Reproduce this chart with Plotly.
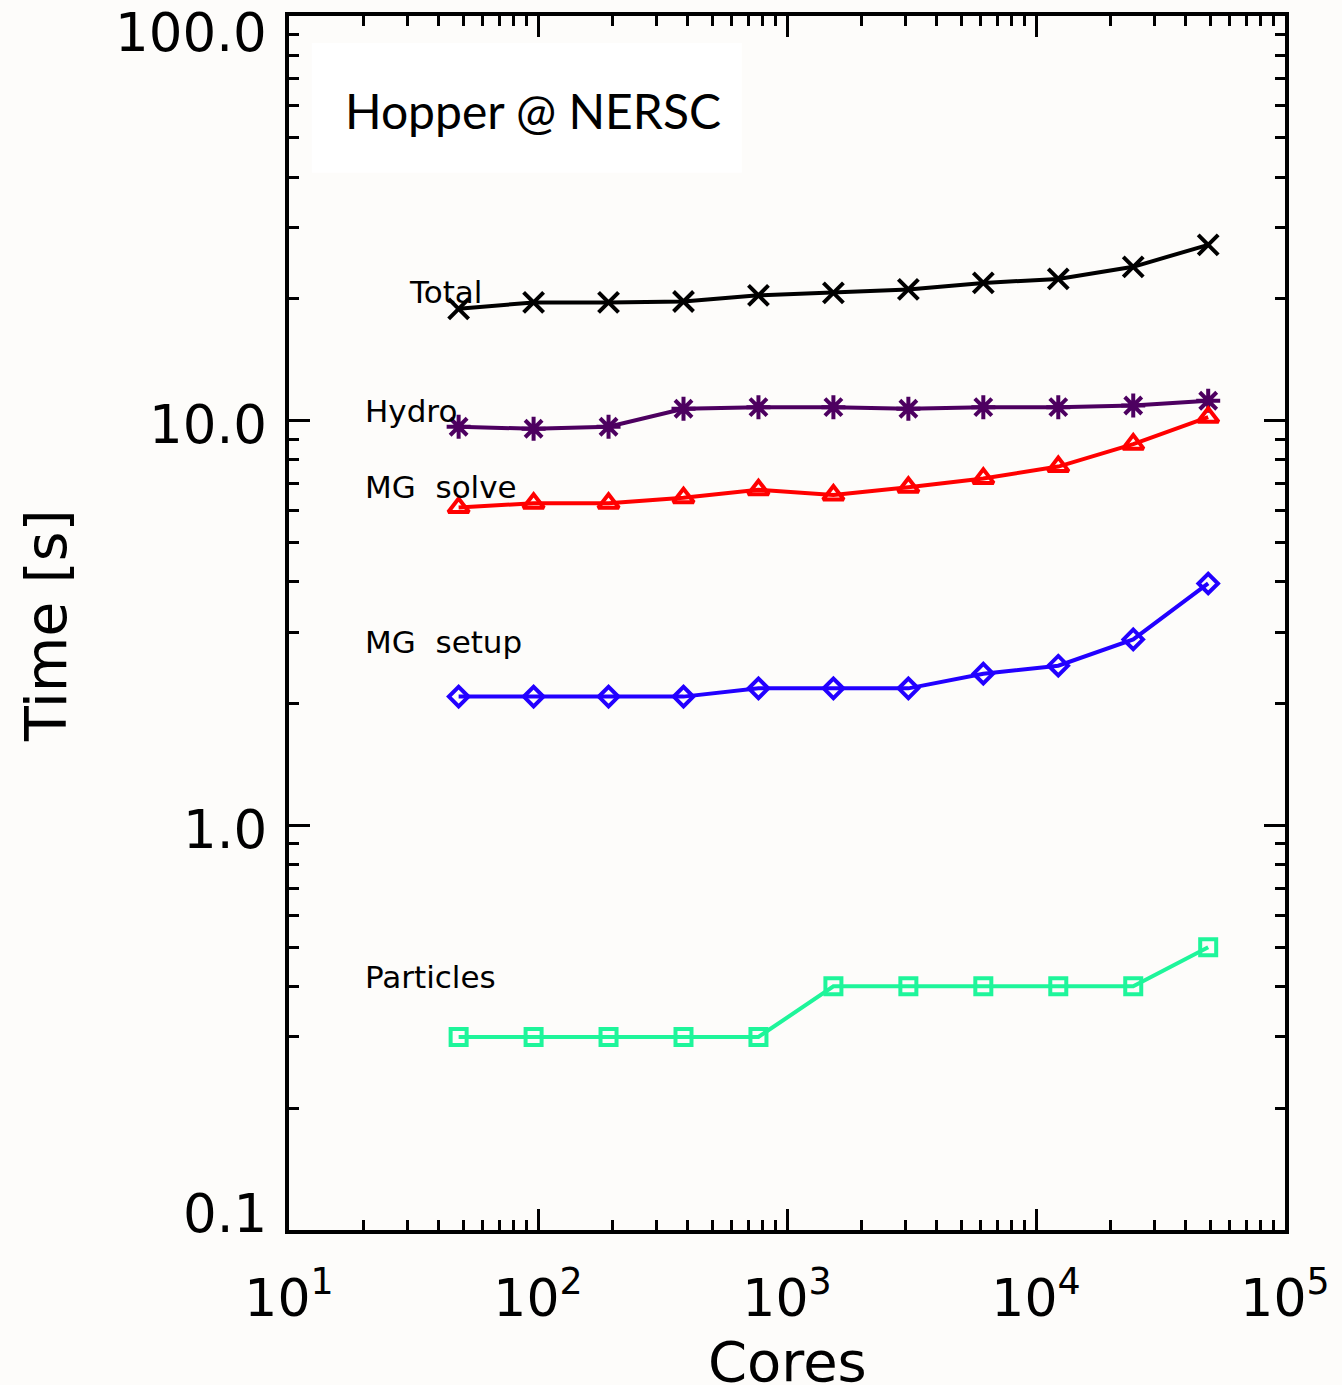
import math
import plotly.graph_objects as go

# Weak-scaling timings on Hopper @ NERSC
cores = [48, 96, 192, 384, 768, 1536, 3072, 6144, 12288, 24576, 49152]
total = [18.9, 19.6, 19.6, 19.7, 20.4, 20.7, 21.1, 21.9, 22.4, 24.0, 27.2]
hydro = [9.66, 9.55, 9.66, 10.7, 10.8, 10.8, 10.7, 10.8, 10.8, 10.9, 11.2]
mg_solve = [6.1, 6.25, 6.25, 6.45, 6.75, 6.55, 6.85, 7.2, 7.7, 8.75, 10.2]
mg_setup = [2.08, 2.08, 2.08, 2.08, 2.18, 2.18, 2.18, 2.37, 2.48, 2.88, 3.96]
particles = [0.3, 0.3, 0.3, 0.3, 0.3, 0.4, 0.4, 0.4, 0.4, 0.4, 0.5]

series_names = ["Total", "Hydro", "MG  solve", "MG  setup", "Particles"]
series_values = [total, hydro, mg_solve, mg_setup, particles]
series_colors = ["#000000", "#4d0060", "#ff0000", "#2200ff", "#1ef59a"]
series_symbols = ["x-thin-open", "asterisk-open", "triangle-up-open",
                  "diamond-open", "square-open"]
series_sizes = [20, 20, 18, 15, 16]

x_tickvals = [10, 100, 1000, 10000, 100000]
x_ticktext = ["10<sup>1</sup>", "10<sup>2</sup>", "10<sup>3</sup>",
              "10<sup>4</sup>", "10<sup>5</sup>"]
y_tickvals = [0.1, 1, 10, 100]
y_ticktext = ["0.1", "1.0", "10.0", "100.0"]
# vertical nudges of the y labels so the end labels stay inside the frame
y_label_shift = [17, -4, -4, -16]

FONT = "DejaVu Sans"
BG = "#fdfcfa"

fig = go.Figure()
for name, vals, col, sym, sz in zip(series_names, series_values,
                                    series_colors, series_symbols, series_sizes):
    fig.add_trace(go.Scatter(
        x=cores, y=vals, mode="lines+markers", name=name,
        line=dict(color=col, width=4),
        marker=dict(symbol=sym, size=sz, color=col,
                    line=dict(color=col, width=4)),
        showlegend=False, cliponaxis=False,
    ))

# series labels placed to the left of each curve (axis coords are log10)
label_pos = {
    "Total": (1.475, 1.318),
    "Hydro": (1.299, 1.025),
    "MG  solve": (1.299, 0.836),
    "MG  setup": (1.299, 0.452),
    "Particles": (1.299, -0.374),
}
for name in series_names:
    lx, ly = label_pos[name]
    fig.add_annotation(x=lx, y=ly, xref="x", yref="y", text=name,
                       showarrow=False, xanchor="left", yanchor="middle",
                       font=dict(family=FONT, size=31, color="black"))

# y tick labels
for val, txt, sh in zip(y_tickvals, y_ticktext, y_label_shift):
    fig.add_annotation(x=0, y=math.log10(val), xref="paper", yref="y",
                       text=txt, showarrow=False, xanchor="right",
                       yanchor="middle", xshift=-20, yshift=sh,
                       font=dict(family=FONT, size=53, color="black"))

# axis titles
fig.add_annotation(x=-0.2433, y=0.498, xref="paper", yref="paper",
                   text="Time [s]", textangle=-90, showarrow=False,
                   xanchor="center", yanchor="middle",
                   font=dict(family=FONT, size=57, color="black"))
fig.add_annotation(x=0.5, y=-0.108, xref="paper", yref="paper",
                   text="Cores", showarrow=False,
                   xanchor="center", yanchor="middle",
                   font=dict(family=FONT, size=56, color="black"))

# white title box
fig.add_shape(type="rect", xref="paper", yref="paper",
              x0=0.0229, x1=0.4546, y0=0.8708, y1=0.9778,
              fillcolor="white", line=dict(width=0), layer="below")
fig.add_annotation(x=0.0538, y=0.9218, xref="paper", yref="paper",
                   text="Hopper @ NERSC", showarrow=False,
                   xanchor="left", yanchor="middle",
                   font=dict(family="Lato", size=48, color="black"))

axis_common = dict(
    type="log", showline=True, linecolor="black", linewidth=3.5,
    mirror="allticks", ticks="inside", ticklen=21, tickwidth=3,
    tickcolor="black", showgrid=False, zeroline=False,
    minor=dict(ticks="inside", ticklen=10, tickwidth=3, tickcolor="black",
               dtick="D1", showgrid=False),
)

fig.update_xaxes(axis_common, range=[1, 5], tickvals=x_tickvals,
                 ticktext=x_ticktext, ticklabelstandoff=20,
                 tickfont=dict(family=FONT, size=52, color="black"))
fig.update_yaxes(axis_common, range=[-1, 2], tickvals=y_tickvals,
                 showticklabels=False)

fig.update_layout(
    width=1342, height=1385,
    margin=dict(l=289, r=48, t=15, b=155),
    paper_bgcolor=BG, plot_bgcolor=BG,
)

fig.write_html("out.html")
